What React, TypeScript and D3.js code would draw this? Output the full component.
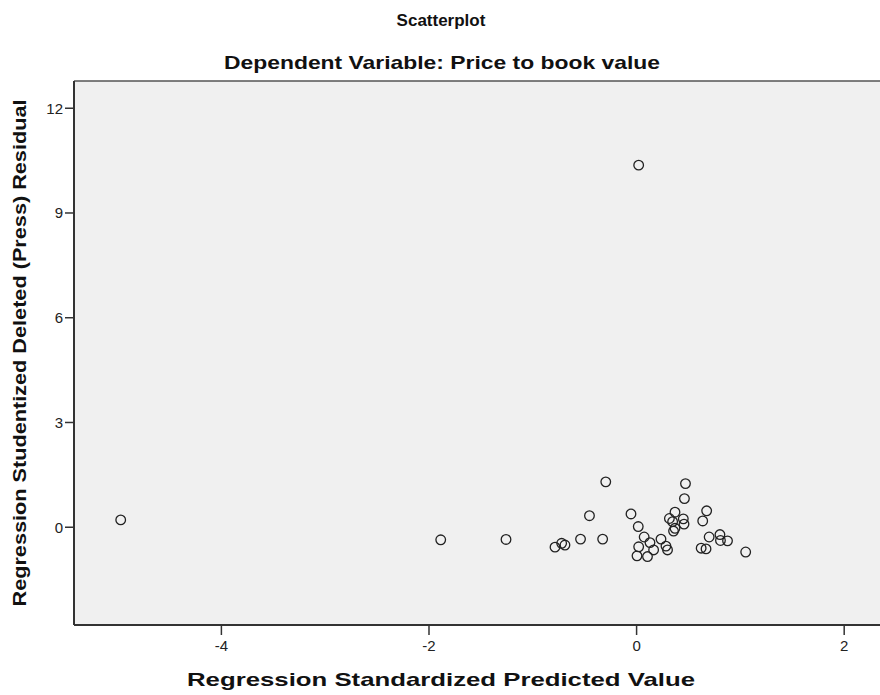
import React from "react";
import * as d3 from "d3";

const xValues = [
  -4.97, -1.887, -1.258, -0.786, -0.722, -0.69, -0.54, -0.454, -0.327, -0.297,
  -0.054, 0.016, 0.073, 0.129, 0.235, 0.02, 0.164, 0.283, 0.298, 0.004,
  0.105, 0.37, 0.316, 0.347, 0.37, 0.356, 0.471, 0.461, 0.45, 0.457,
  0.675, 0.637, 0.699, 0.803, 0.808, 0.876, 0.622, 0.669, 1.051, 0.02,
];
const yValues = [
  0.21, -0.36, -0.35, -0.57, -0.46, -0.51, -0.34, 0.33, -0.34, 1.3,
  0.38, 0.02, -0.28, -0.44, -0.34, -0.56, -0.65, -0.54, -0.65, -0.82,
  -0.84, 0.43, 0.25, 0.16, -0.03, -0.11, 1.25, 0.82, 0.24, 0.09,
  0.47, 0.18, -0.28, -0.21, -0.38, -0.39, -0.6, -0.62, -0.71, 10.37,
];
const xTicks = [-4, -2, 0, 2];
const yTicks = [0, 3, 6, 9, 12];

const title = "Scatterplot";
const subtitle = "Dependent Variable: Price to book value";
const xLabel = "Regression Standardized Predicted Value";
const yLabel = "Regression Studentized Deleted (Press) Residual";

export default function App() {
  const W = 880;
  const H = 695;
  const left = 74;
  const right = 880;
  const top = 81;
  const bottom = 625;
  const x = d3.scaleLinear().domain([-5.42, 2.345]).range([left, right]);
  const y = d3.scaleLinear().domain([-2.8, 12.78]).range([bottom, top]);
  const points = xValues.map((v, i) => ({ x: v, y: yValues[i] }));
  const font = "'Liberation Sans', Arial, sans-serif";

  return (
    <svg
      width={W}
      height={H}
      style={{ position: "absolute", left: 0, top: 0, background: "#fff" }}
      fontFamily={font}
    >
      <rect x={left} y={top} width={right - left} height={bottom - top} fill="#f0f0f0" />
      <line x1={left} x2={right} y1={top} y2={top} stroke="#555" strokeWidth={1.5} />
      <line x1={left} x2={left} y1={top} y2={bottom} stroke="#333" strokeWidth={2} />
      <line x1={left} x2={right} y1={bottom} y2={bottom} stroke="#333" strokeWidth={2} />

      {yTicks.map((t) => (
        <g key={"y" + t}>
          <line x1={left - 9} x2={left} y1={y(t)} y2={y(t)} stroke="#333" strokeWidth={1.5} />
          <text x={left - 11} y={y(t) + 5.5} textAnchor="end" fontSize={15} fill="#222">
            {t}
          </text>
        </g>
      ))}
      {xTicks.map((t) => (
        <g key={"x" + t}>
          <line x1={x(t)} x2={x(t)} y1={bottom} y2={bottom + 10} stroke="#333" strokeWidth={1.5} />
          <text x={x(t)} y={bottom + 26} textAnchor="middle" fontSize={15} fill="#222">
            {t}
          </text>
        </g>
      ))}

      {points.map((p, i) => (
        <circle
          key={i}
          cx={x(p.x)}
          cy={y(p.y)}
          r={4.8}
          fill="none"
          stroke="#222"
          strokeWidth={1.3}
        />
      ))}

      <text x={441} y={26} textAnchor="middle" fontSize={17} fontWeight="bold" fill="#111">
        {title}
      </text>
      <text
        x={442}
        y={69}
        textAnchor="middle"
        fontSize={19}
        fontWeight="bold"
        fill="#111"
        textLength={436}
        lengthAdjust="spacingAndGlyphs"
      >
        {subtitle}
      </text>
      <text
        x={441}
        y={686}
        textAnchor="middle"
        fontSize={19}
        fontWeight="bold"
        fill="#111"
        textLength={508}
        lengthAdjust="spacingAndGlyphs"
      >
        {xLabel}
      </text>
      <text
        transform={`translate(26, ${(top + bottom) / 2}) rotate(-90)`}
        textAnchor="middle"
        fontSize={19}
        fontWeight="bold"
        fill="#111"
        textLength={507}
        lengthAdjust="spacingAndGlyphs"
      >
        {yLabel}
      </text>
    </svg>
  );
}
